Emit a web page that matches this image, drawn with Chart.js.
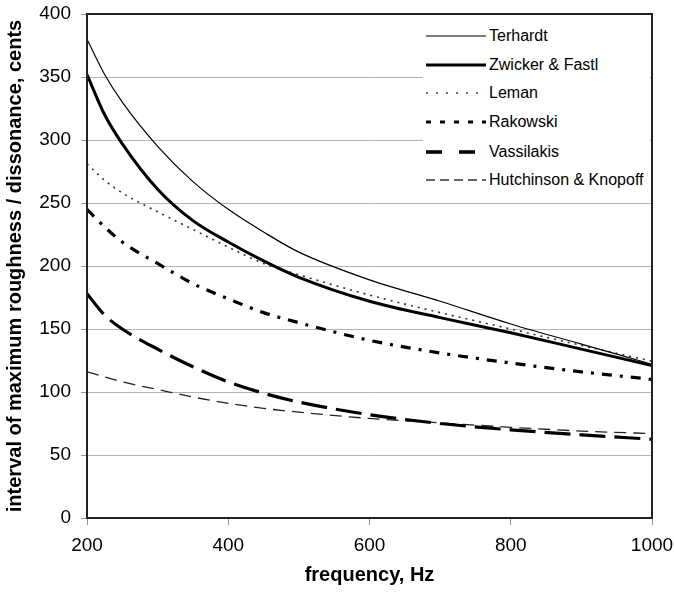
<!DOCTYPE html>
<html><head><meta charset="utf-8">
<script src="https://cdn.jsdelivr.net/npm/chart.js@4"></script>
<style>
html,body{margin:0;padding:0;background:#fff;}
#wrap{position:relative;width:674px;height:592px;}
#legend{position:absolute;left:423px;top:20px;width:227px;height:176px;background:#fff;font:16px "Liberation Sans",Arial,sans-serif;color:#000;}
.row{position:absolute;left:3px;height:20px;display:flex;align-items:center;white-space:nowrap;}
.row svg{width:60px;height:10px;margin-right:3px;flex:none}
</style></head>
<body>
<div id="wrap">
<canvas id="c" width="674" height="592"></canvas>
<div id="legend"></div>
</div>
<script>
const freqs = [200,225,250,300,350,400,450,500,600,700,800,900,1000];
const seriesNames = ["Terhardt","Zwicker & Fastl","Leman","Rakowski","Vassilakis","Hutchinson & Knopoff"];
const terhardt   = [380,352,330,295,267,245,227,211,189,172,154,138,122];
const zwicker    = [352,320,297,261,236,219,204,191,172,159,147,134,121];
const leman      = [281,268,258,243,229,215,202,193,177,163,150,137,124.5];
const rakowski   = [245,231,219,202,186,174,163,155,141,131,123,116,110];
const vassilakis = [178,161,150,134,120,108,99,92,82,75,70,66,62.5];
const hutchinson = [116,112,108,102,96,91,87,84,79,75.5,72,69,67];
const yTicks = [0,50,100,150,200,250,300,350,400];
const xTicks = [200,400,600,800,1000];

const values = [terhardt,zwicker,leman,rakowski,vassilakis,hutchinson];
const styles = [
  {borderColor:'#000',borderWidth:1.2,borderDash:[]},
  {borderColor:'#000',borderWidth:3,borderDash:[]},
  {borderColor:'#333',borderWidth:1.6,borderDash:[2,5]},
  {borderColor:'#000',borderWidth:3.2,borderDash:[10,8,3,8]},
  {borderColor:'#000',borderWidth:3.2,borderDash:[26,9]},
  {borderColor:'#222',borderWidth:1.3,borderDash:[12,7]}
];
const legendSamples = [
  {w:1.2,dash:'',c:'#000'},
  {w:3,dash:'',c:'#000'},
  {w:1.6,dash:'2 8',c:'#444'},
  {w:3.2,dash:'5 9',c:'#000'},
  {w:3.5,dash:'16 17',c:'#000'},
  {w:1.3,dash:'9 5',c:'#333'}
];

const datasets = seriesNames.map((name,i)=>Object.assign({
  label:name,
  data: freqs.map((f,j)=>({x:f,y:values[i][j]})),
  pointRadius:0,
  fill:false,
  cubicInterpolationMode:'monotone',
  borderCapStyle:'butt'
}, styles[i]));

const FONT = '"Liberation Sans", Arial, sans-serif';

const frame = {
  id:'frame',
  afterDatasetsDraw(chart){
    const a = chart.chartArea, ctx = chart.ctx;
    ctx.save();
    ctx.strokeStyle = '#222';
    ctx.lineWidth = 2;
    ctx.strokeRect(a.left, a.top, a.right-a.left, a.bottom-a.top);
    ctx.restore();
  }
};

new Chart(document.getElementById('c'), {
  type:'line',
  data:{datasets},
  plugins:[frame],
  options:{
    responsive:false,
    animation:false,
    devicePixelRatio:1,
    layout:{padding:{left:0,top:14,right:22,bottom:0}},
    plugins:{legend:{display:false},tooltip:{enabled:false}},
    scales:{
      x:{
        type:'linear', min:200, max:1000,
        afterBuildTicks(s){ s.ticks = xTicks.map(v=>({value:v})); },
        afterFit(s){ s.height = 74; s.paddingLeft = 0; s.paddingRight = 0; s.paddingTop = 0; s.paddingBottom = 0; },
        grid:{drawOnChartArea:false, drawTicks:true, tickLength:7, tickColor:'#999'},
        border:{display:false},
        ticks:{color:'#000', font:{family:FONT,size:19}, padding:9, maxRotation:0, callback:v=>String(v)},
        title:{display:true, text:'frequency, Hz', color:'#000', font:{family:FONT,size:20,weight:'bold'}, padding:{top:4,bottom:5}}
      },
      y:{
        type:'linear', min:0, max:400,
        afterBuildTicks(s){ s.ticks = yTicks.map(v=>({value:v})); },
        afterFit(s){ s.width = 87; s.paddingTop = 0; s.paddingBottom = 0; s.paddingLeft = 0; s.paddingRight = 0; },
        grid:{color:'#b3b3b3', lineWidth:1, drawTicks:true, tickLength:6, tickColor:'#999'},
        border:{display:false},
        ticks:{color:'#000', font:{family:FONT,size:19}, padding:10, callback:v=>String(v)},
        title:{display:true, text:'interval of maximum roughness / dissonance, cents', color:'#000', font:{family:FONT,size:20,weight:'bold'}, padding:{top:3,bottom:4}}
      }
    }
  }
});

const leg = document.getElementById('legend');
const rowTops = [6,35,63,92,122,150];
seriesNames.forEach((name,i)=>{
  const s = legendSamples[i];
  const row = document.createElement('div');
  row.className='row';
  row.style.top = rowTops[i]+'px';
  row.innerHTML = '<svg viewBox="0 0 60 10"><line x1="0" y1="5" x2="60" y2="5" stroke="'+s.c+'" stroke-width="'+s.w+'"'+(s.dash?' stroke-dasharray="'+s.dash+'"':'')+'/></svg><span></span>';
  row.querySelector('span').textContent = name;
  leg.appendChild(row);
});
</script>
</body></html>
